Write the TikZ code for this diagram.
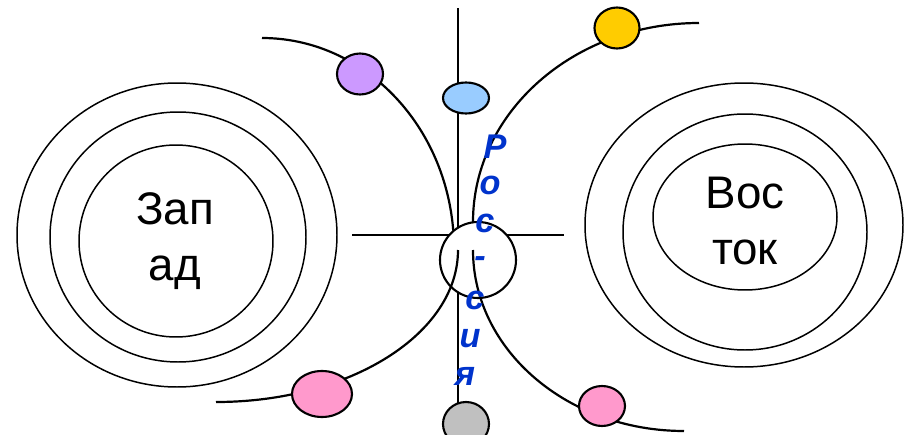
\documentclass[tikz,border=0pt]{standalone}
\usepackage{fontspec}
\setmainfont{Liberation Sans}
\usepackage{tikz}
\usetikzlibrary{shapes.geometric}

\definecolor{lila}{HTML}{CC99FF}
\definecolor{hellblau}{HTML}{99CCFF}
\definecolor{gelb}{HTML}{FFCC00}
\definecolor{rosa}{HTML}{FF99CC}
\definecolor{grau}{HTML}{C0C0C0}
\definecolor{schrift}{HTML}{0033CC}

\begin{document}
\begin{tikzpicture}[x=0.2mm,y=-0.2mm,
		bahn/.style={line width=1.25pt},
		ring/.style={line width=0.85pt},
		kugel/.style={ellipse,draw,line width=1.2pt,inner sep=0pt},
		wort/.style={font=\fontsize{26}{32}\selectfont,align=center,inner sep=0pt},
		buchst/.style={font=\fontsize{19.5}{22}\selectfont\bfseries\itshape,text=schrift,inner sep=0pt}]
		\useasboundingbox (0,0) rectangle (904,435);
		\clip (0,0) rectangle (904,435);
		
		% Kreuz in der Mitte
		\draw[bahn] (458,8) -- (458,435);
		\draw[bahn] (352,235) -- (564,235);
		
		% obere Bahnen
		\draw[bahn] (262,38) arc[start angle=-90,end angle=-5,x radius=192,y radius=211];
		\draw[bahn] (473,222) arc[start angle=180,end angle=270,x radius=226,y radius=199];
		
		% Kreis in der Mitte (deckt das Kreuz ab)
		\node[circle,draw,fill=white,line width=1.2pt,minimum size=15.2mm,inner sep=0pt] (mitte) at (478,260) {};
		
		% untere Bahnen
		\draw[bahn] (458,250) arc[start angle=0,end angle=90,x radius=242,y radius=152];
		\draw[bahn] (473,250) arc[start angle=180,end angle=90,x radius=211,y radius=181];
		
		% Kugeln auf den Bahnen
		\node[kugel,fill=lila,minimum width=9.2mm,minimum height=8.2mm] (lila) at (360,74) {};
		\node[kugel,fill=hellblau,minimum width=9.2mm,minimum height=6.2mm] (blau) at (466,98) {};
		\node[kugel,fill=gelb,minimum width=9mm,minimum height=8.2mm] (gelb) at (617,28) {};
		\node[kugel,fill=rosa,minimum width=12mm,minimum height=9.2mm] (rosaL) at (322,394) {};
		\node[kugel,fill=rosa,minimum width=9.2mm,minimum height=8mm] (rosaR) at (602,406) {};
		\node[kugel,fill=grau,minimum width=9.2mm,minimum height=8.8mm] (grau) at (466,424) {};
		
		% Westen
		\draw[ring] (177,235) ellipse[x radius=160,y radius=152];
		\draw[ring] (178,237) ellipse[x radius=128,y radius=125];
		\draw[ring] (176,241) ellipse[x radius=97,y radius=96];
		\node[wort] (west) at (175,241) {Зап\\ад};
		
		% Osten
		\draw[ring] (744,225) ellipse[x radius=159,y radius=142];
		\draw[ring] (745,232) ellipse[x radius=122,y radius=118];
		\draw[ring] (745,217) ellipse[x radius=92,y radius=73];
		\node[wort] (ost) at (745,221) {Вос\\ток};
		
		% Schriftzug senkrecht
		\foreach \b [count=\i] in {Р,о,с,-,с,и,я}
		\node[buchst] (r\i) at ({500-5*\i},{108.7+38.3*\i}) {\b};
		
	\end{tikzpicture}
\end{document}
